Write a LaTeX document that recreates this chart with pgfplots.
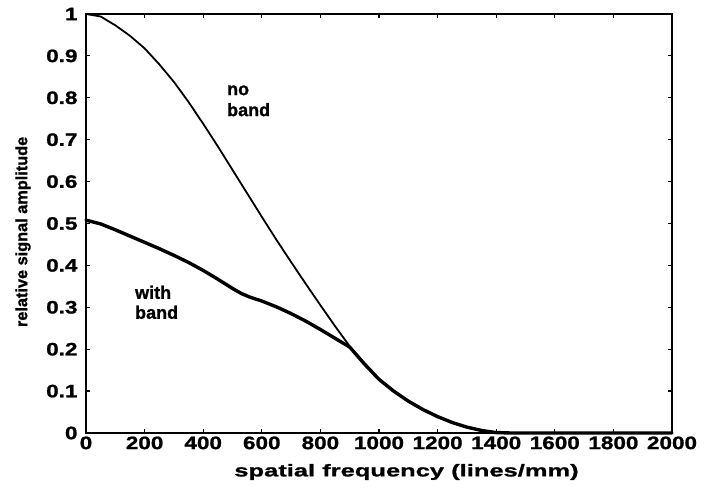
\documentclass[border=0pt]{standalone}
\usepackage{fontspec}
\usepackage{pgfplots}
\pgfplotsset{compat=1.18}
\setmainfont{Liberation Sans}[BoldFeatures={FakeBold=1.2}]
\newfontfamily\tickfont{Liberation Sans}[FakeStretch=1.25, BoldFeatures={FakeBold=1.2}]
\newfontfamily\xlabfont{Liberation Sans}[FakeStretch=1.5, BoldFeatures={FakeBold=1.2}]
\begin{document}
\begin{tikzpicture}
\useasboundingbox (-86pt,-61pt) rectangle (626pt,433pt);
\begin{axis}[
  at={(0,0)}, anchor=south west,
  width=586pt, height=419pt, scale only axis,
  xmin=0, xmax=2000, ymin=0, ymax=1,
  xtick={0,200,...,2000},
  ytick={0,0.1,...,1},
  yticklabels={0,0.1,0.2,0.3,0.4,0.5,0.6,0.7,0.8,0.9,1},
  tick align=inside, major tick length=4pt,
  tick style={line width=1.2pt, black},
  axis line style={line width=2pt},
  /pgf/number format/assume math mode=true,
  /pgf/number format/1000 sep={},
  ticklabel style={font=\fontsize{18}{20}\selectfont\tickfont\bfseries},
  yticklabel style={xshift=-5pt},
  xlabel={spatial frequency (lines/mm)},
  xlabel style={at={(axis description cs:0.547,0)}, anchor=center, yshift=-39pt,
    font=\fontsize{17}{19}\selectfont\xlabfont\bfseries},
  ylabel={relative signal amplitude},
  ylabel style={at={(axis description cs:-0.1075,0.48)}, anchor=center,
    font=\fontsize{16.3}{18}\selectfont\bfseries},
  clip=false,
]
\addplot[black, line width=1.8pt, line join=round] coordinates {
(0,1.000) (50,0.994) (100,0.973) (150,0.948) (200,0.918) (250,0.880)
(300,0.838) (350,0.790) (400,0.738) (450,0.684) (500,0.628) (550,0.572)
(600,0.516) (650,0.461) (700,0.408) (750,0.356) (800,0.305) (850,0.255)
(900,0.207) (950,0.165) (1000,0.128) (1050,0.100) (1100,0.076) (1150,0.056)
(1200,0.039) (1250,0.025) (1300,0.014) (1350,0.006) (1400,0.001) (1450,0) (2000,0)
};
\addplot[black, line width=3.4pt, line join=round, line cap=round] coordinates {
(0,0.508) (50,0.499) (100,0.485) (150,0.470) (200,0.455) (250,0.440)
(300,0.424) (350,0.407) (400,0.388) (450,0.367) (500,0.345) (530,0.333)
(560,0.324) (600,0.315) (650,0.301) (700,0.285) (750,0.267) (800,0.247)
(850,0.226) (900,0.205) (950,0.165) (1000,0.128) (1050,0.100) (1100,0.076)
(1150,0.056) (1200,0.039) (1250,0.025) (1300,0.014) (1350,0.006) (1400,0.001)
(1450,0) (2000,0)
};
\node[anchor=north west, align=left, inner sep=0pt, font=\fontsize{18}{21}\selectfont\bfseries]
  at (axis cs:481,0.83) {no\\band};
\node[anchor=north west, align=left, inner sep=0pt, font=\fontsize{18}{20}\selectfont\bfseries]
  at (axis cs:167,0.352) {with\\band};
\end{axis}
\end{tikzpicture}
\end{document}
